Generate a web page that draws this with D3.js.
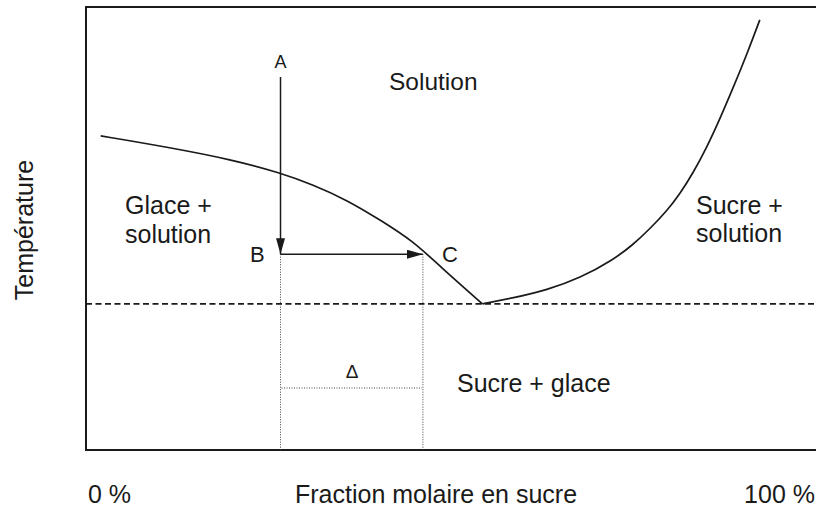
<!DOCTYPE html>
<html>
<head>
<meta charset="utf-8">
<script src="https://cdn.jsdelivr.net/npm/d3@7"></script>
<style>
  body { margin: 0; background: #fff; }
  text { font-family: "Liberation Sans", Arial, Helvetica, sans-serif; fill: #1a1a1a; }
</style>
</head>
<body>
<div id="chart"></div>
<script>
var width = 816, height = 508;

// fraction molaire (%) / température (unités arbitraires)
var glaceX = [2.0, 11.0, 20.0, 26.4, 30.9, 35.6, 40.1, 44.6, 48.2, 54.0];
var glaceT = [70.9, 68.4, 65.5, 62.6, 59.9, 56.4, 51.9, 47.1, 41.5, 33.0];
var sucreX = [54.0, 58.2, 62.8, 67.3, 71.8, 74.5, 76.8, 79.2, 80.9, 82.7, 84.6, 86.4, 88.2, 90.1, 91.8];
var sucreT = [33.0, 34.3, 36.1, 38.8, 42.9, 46.3, 49.9, 54.1, 57.8, 62.5, 68.4, 74.9, 81.9, 89.6, 97.1];
var eutectiqueT = 33.0;
var pointA = [26.5, 84.2], pointB = [26.5, 44.2], pointC = [45.9, 44.2];
var deltaT = 14.0;
var tickValues = [0, 100];
var tickLabels = ["0 %", "100 %"];
var xTitle = "Fraction molaire en sucre";
var yTitle = "Température";

var svg = d3.select('#chart').append('svg')
    .attr('width', width)
    .attr('height', height);

var x = d3.scaleLinear().domain([0, 100]).range([86, 820]);
var y = d3.scaleLinear().domain([0, 100]).range([450, 7]);

var ink = '#1a1a1a';

svg.append('defs').append('marker')
    .attr('id', 'head')
    .attr('markerUnits', 'userSpaceOnUse')
    .attr('viewBox', '0 0 16 9')
    .attr('refX', 16).attr('refY', 4.5)
    .attr('markerWidth', 16).attr('markerHeight', 9)
    .attr('orient', 'auto')
    .append('path')
    .attr('d', 'M0,0L16,4.5L0,9Z')
    .attr('fill', ink);

// cadre
svg.append('rect')
    .attr('x', x(0)).attr('y', y(100))
    .attr('width', x(100) - x(0)).attr('height', y(0) - y(100))
    .attr('fill', 'none').attr('stroke', ink).attr('stroke-width', 2);

// palier eutectique
svg.append('line')
    .attr('x1', x(0)).attr('x2', x(100))
    .attr('y1', y(eutectiqueT)).attr('y2', y(eutectiqueT))
    .attr('stroke', ink).attr('stroke-width', 1.7)
    .attr('stroke-dasharray', '6,3.5');

var line = d3.line()
    .x(function(d) { return x(d[0]); })
    .y(function(d) { return y(d[1]); })
    .curve(d3.curveBasis);

svg.append('path')
    .datum(d3.zip(glaceX, glaceT))
    .attr('d', line)
    .attr('fill', 'none').attr('stroke', ink).attr('stroke-width', 1.7);

svg.append('path')
    .datum(d3.zip(sucreX, sucreT))
    .attr('d', line)
    .attr('fill', 'none').attr('stroke', ink).attr('stroke-width', 1.7);

// pointillés
[pointB, pointC].forEach(function(p) {
    svg.append('line')
        .attr('x1', x(p[0])).attr('x2', x(p[0]))
        .attr('y1', y(p[1])).attr('y2', y(0))
        .attr('stroke', '#444').attr('stroke-width', 1)
        .attr('stroke-dasharray', '1,1.5');
});
svg.append('line')
    .attr('x1', x(pointB[0]) + 1).attr('x2', x(pointC[0]) - 1)
    .attr('y1', y(deltaT)).attr('y2', y(deltaT))
    .attr('stroke', '#444').attr('stroke-width', 1)
    .attr('stroke-dasharray', '1,1.5');

// flèches A -> B -> C
svg.append('line')
    .attr('x1', x(pointA[0])).attr('x2', x(pointB[0]))
    .attr('y1', y(pointA[1])).attr('y2', y(pointB[1]))
    .attr('stroke', ink).attr('stroke-width', 1.5)
    .attr('marker-end', 'url(#head)');
svg.append('line')
    .attr('x1', x(pointB[0])).attr('x2', x(pointC[0]))
    .attr('y1', y(pointB[1])).attr('y2', y(pointC[1]))
    .attr('stroke', ink).attr('stroke-width', 1.5)
    .attr('marker-end', 'url(#head)');

function label(txt, px, py, size, anchor) {
    return svg.append('text')
        .attr('x', px).attr('y', py)
        .attr('font-size', size)
        .attr('text-anchor', anchor || 'start')
        .text(txt);
}

label('A', x(pointA[0]), 68, 18, 'middle');
label('B', 250, 262, 22);
label('C', 442, 262, 22);
label('\u0394', 352, 378, 19, 'middle');
label('Solution', 389, 90, 24.5);
label('Glace +', 125, 214, 25);
label('solution', 125, 243, 25);
label('Sucre +', 696, 214, 25);
label('solution', 696, 242, 25);
label('Sucre + glace', 457, 392, 25);

// axes
label(tickLabels[0], x(tickValues[0]) + 2, 503, 25);
label(tickLabels[1], 815, 503, 25, 'end');
label(xTitle, 295, 503, 25);

svg.append('text')
    .attr('transform', 'translate(33,230) rotate(-90)')
    .attr('font-size', 25)
    .attr('text-anchor', 'middle')
    .text(yTitle);
</script>
</body>
</html>
